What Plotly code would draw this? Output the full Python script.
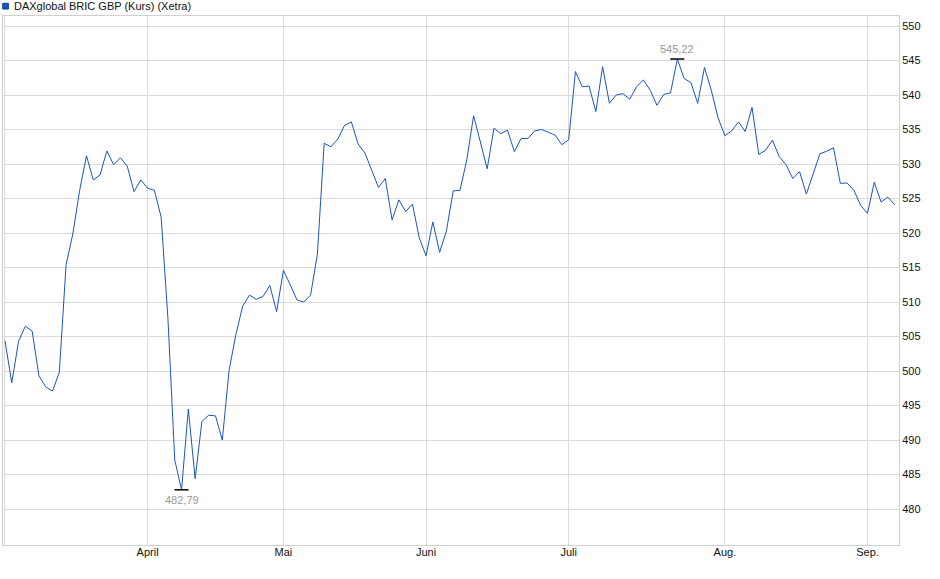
import pandas as pd
import plotly.graph_objects as go

# --- data -------------------------------------------------------------
title_text = "DAXglobal BRIC GBP (Kurs) (Xetra)"
holidays = ["2025-04-18", "2025-04-21", "2025-05-01"]
all_days = pd.bdate_range("2025-03-03", "2025-09-05")
dates = [d.strftime("%Y-%m-%d") for d in all_days if d.strftime("%Y-%m-%d") not in holidays]

values = [
    504.4, 498.3, 504.3, 506.5, 505.8, 499.3, 497.7, 497.1, 499.8, 515.4,
    519.9, 526.2, 531.2, 527.7, 528.4, 531.9, 529.9, 530.9, 529.7, 526.0,
    527.7, 526.5, 526.2, 522.3, 507.5, 487.1, 482.79, 494.5, 484.4, 492.7,
    493.6, 493.5, 490.0, 500.1, 505.3, 509.4, 511.0, 510.4, 510.8, 512.4,
    508.6, 514.6, 512.5, 510.3, 510.0, 511.0, 516.9, 533.0, 532.5, 533.6,
    535.6, 536.1, 532.9, 531.6, 529.1, 526.6, 527.9, 521.9, 524.8, 523.1,
    524.2, 519.3, 516.7, 521.6, 517.2, 520.3, 526.1, 526.2, 530.6, 537.0,
    533.2, 529.3, 535.2, 534.4, 534.9, 531.8, 533.7, 533.7, 534.8, 535.0,
    534.6, 534.2, 532.8, 533.5, 543.4, 541.2, 541.3, 537.6, 544.1, 538.8,
    540.0, 540.2, 539.4, 541.2, 542.2, 540.7, 538.5, 540.1, 540.3, 545.22,
    542.4, 541.8, 538.8, 544.0, 540.7, 536.7, 534.1, 534.8, 536.1, 534.7,
    538.2, 531.4, 532.0, 533.45, 531.1, 529.9, 527.9, 528.9, 525.65, 528.6,
    531.5, 531.85, 532.35, 527.2, 527.25, 526.2, 524.0, 522.85, 527.35, 524.5,
    525.2, 524.1,
]

month_ticks = ["2025-03-03", "2025-04-01", "2025-05-02", "2025-06-02",
               "2025-07-01", "2025-08-01", "2025-09-01"]
month_labels = ["", "April", "Mai", "Juni", "Juli", "Aug.", "Sep."]
y_ticks = [480, 485, 490, 495, 500, 505, 510, 515, 520, 525, 530, 535, 540, 545, 550]

# --- figure -----------------------------------------------------------
FONT = "Arial, 'Liberation Sans', sans-serif"
LINE_COLOR = "#1a55c4"

i_max = max(range(len(values)), key=lambda i: values[i])
i_min = min(range(len(values)), key=lambda i: values[i])

def fmt(v):
    return f"{v:.2f}".replace(".", ",")

fig = go.Figure()
fig.add_trace(go.Scatter(
    x=dates, y=values, mode="lines",
    line=dict(color=LINE_COLOR, width=1),
    showlegend=False, hoverinfo="x+y",
))
fig.add_trace(go.Scatter(
    x=[dates[i_max], dates[i_min]], y=[values[i_max], values[i_min]],
    mode="markers",
    marker=dict(symbol="line-ew", size=10, line=dict(color="#000000", width=1.5)),
    showlegend=False, hoverinfo="skip",
))

fig.add_annotation(x=dates[i_max], y=values[i_max], text=fmt(values[i_max]),
                   showarrow=False, yshift=10, font=dict(family=FONT, size=11, color="#999999"))
fig.add_annotation(x=dates[i_min], y=values[i_min], text=fmt(values[i_min]),
                   showarrow=False, yshift=-10, font=dict(family=FONT, size=11, color="#999999"))

# legend-like header
fig.add_shape(type="rect", xref="paper", yref="paper",
              x0=-0.0003, x1=0.0060, y0=1.0132, y1=1.0240,
              fillcolor=LINE_COLOR, line=dict(color="#163f8f", width=1))
fig.add_annotation(xref="paper", yref="paper", x=0.0095, y=1.0195,
                   xanchor="left", yanchor="middle", showarrow=False,
                   text=title_text, font=dict(family=FONT, size=11, color="#111111"))

fig.update_layout(
    width=940, height=579,
    margin=dict(l=3, r=41, t=16, b=34),
    paper_bgcolor="white", plot_bgcolor="white",
    font=dict(family=FONT, size=11, color="#111111"),
    xaxis=dict(
        type="category", range=[-0.29, 131.64],
        tickmode="array", tickvals=month_ticks, ticktext=month_labels,
        showgrid=True, gridcolor="#dcdcdc", gridwidth=1,
        showline=True, linecolor="#d0d0d0", mirror=True,
        ticks="", ticklabelstandoff=-3,
        tickfont=dict(family=FONT, size=11, color="#111111"),
        zeroline=False,
    ),
    yaxis=dict(
        side="right", range=[474.79, 551.45],
        tickmode="array", tickvals=y_ticks,
        showgrid=True, gridcolor="#dcdcdc", gridwidth=1,
        showline=True, linecolor="#d0d0d0", mirror=True,
        ticks="", tickfont=dict(family=FONT, size=11, color="#111111"),
        zeroline=False,
    ),
)

fig.write_html("out.html", config={"displayModeBar": False},
               post_script="document.body.style.margin='0';")
